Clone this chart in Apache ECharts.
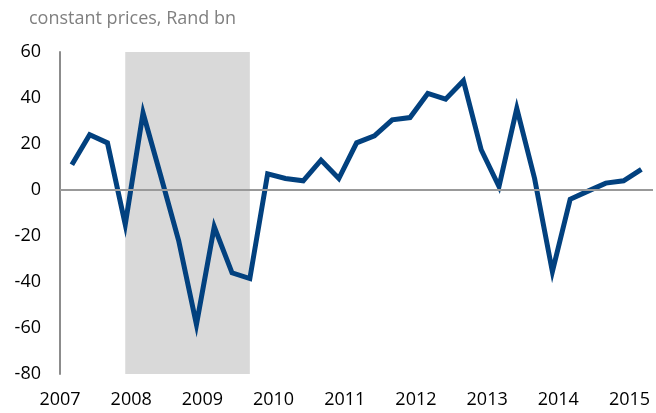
<!DOCTYPE html>
<html>
<head>
<meta charset="utf-8">
<script src="https://cdn.jsdelivr.net/npm/echarts@6/dist/echarts.min.js"></script>
<style>
  html, body { margin: 0; padding: 0; background: #fff; }
  #chart { width: 656px; height: 413px; }
</style>
</head>
<body>
<div id="chart"></div>
<script>
// quarterly values, 2007Q1 .. 2015Q1
const quarters = [
  '2007Q1', '2007Q2', '2007Q3', '2007Q4',
  '2008Q1', '2008Q2', '2008Q3', '2008Q4',
  '2009Q1', '2009Q2', '2009Q3', '2009Q4',
  '2010Q1', '2010Q2', '2010Q3', '2010Q4',
  '2011Q1', '2011Q2', '2011Q3', '2011Q4',
  '2012Q1', '2012Q2', '2012Q3', '2012Q4',
  '2013Q1', '2013Q2', '2013Q3', '2013Q4',
  '2014Q1', '2014Q2', '2014Q3', '2014Q4',
  '2015Q1'
]
const values = [
  11, 24, 20.5, -15,
  33.5, 6, -22, -58.5,
  -16, -36, -38.5, 7,
  5, 4, 13, 5,
  20.5, 23.5, 30.5, 31.5,
  42, 39.5, 47.5, 17.5,
  1.5, 35.5, 5, -35.5,
  -4, -0.5, 3, 4,
  9
]
// shaded recession band (from quarter to quarter)
const recession = ['2007Q4', '2009Q3']
const yTicks = { min: -80, max: 60, step: 20 }
const yearTicks = { first: 2007, last: 2015 }

// an Excel date axis: each quarter is plotted at the start of its last month
const toYear = (q) => {
  const year = parseInt(q.slice(0, 4))
  const n = parseInt(q.slice(5))
  return year + (3 * n - 1) / 12
}

const chart = echarts.init(document.getElementById('chart'))

chart.setOption({
  animation: false,
  title: {
    text: 'constant prices, Rand bn',
    left: 24,
    top: 5,
    textStyle: {
      color: '#808080',
      fontSize: 18,
      fontWeight: 'normal',
      fontFamily: 'Open Sans'
    }
  },
  grid: {
    left: 60,
    right: 0,
    top: 52,
    bottom: 39
  },
  xAxis: {
    type: 'value',
    min: yearTicks.first,
    max: 2015.33,
    interval: 1,
    axisLine: { show: false, onZero: false },
    axisTick: { show: false },
    splitLine: { show: false },
    axisLabel: {
      margin: 17,
      color: '#000',
      fontSize: 18,
      fontFamily: 'Open Sans',
      showMaxLabel: true,
      formatter: (v) => (Number.isInteger(v) && v <= yearTicks.last ? String(v) : '')
    }
  },
  yAxis: {
    type: 'value',
    min: yTicks.min,
    max: yTicks.max,
    interval: yTicks.step,
    axisLine: { show: true, lineStyle: { color: '#8c8c8c', width: 2 } },
    axisTick: { show: false },
    splitLine: { show: false },
    axisLabel: {
      margin: 19,
      color: '#000',
      fontSize: 18,
      fontFamily: 'Open Sans'
    }
  },
  series: [
    {
      // background band + zero line
      type: 'line',
      data: [],
      z: 1,
      silent: true,
      markArea: {
        silent: true,
        itemStyle: { color: '#d9d9d9' },
        data: [[{ xAxis: toYear(recession[0]) }, { xAxis: toYear(recession[1]) }]]
      },
      markLine: {
        silent: true,
        symbol: 'none',
        label: { show: false },
        lineStyle: { color: '#999999', width: 2, type: 'solid' },
        data: [{ yAxis: 0 }]
      }
    },
    {
      type: 'line',
      z: 3,
      data: quarters.map((q, i) => [toYear(q), values[i]]),
      showSymbol: false,
      lineStyle: { color: '#02417f', width: 5, join: 'miter' },
      itemStyle: { color: '#02417f' }
    }
  ]
})
</script>
</body>
</html>
